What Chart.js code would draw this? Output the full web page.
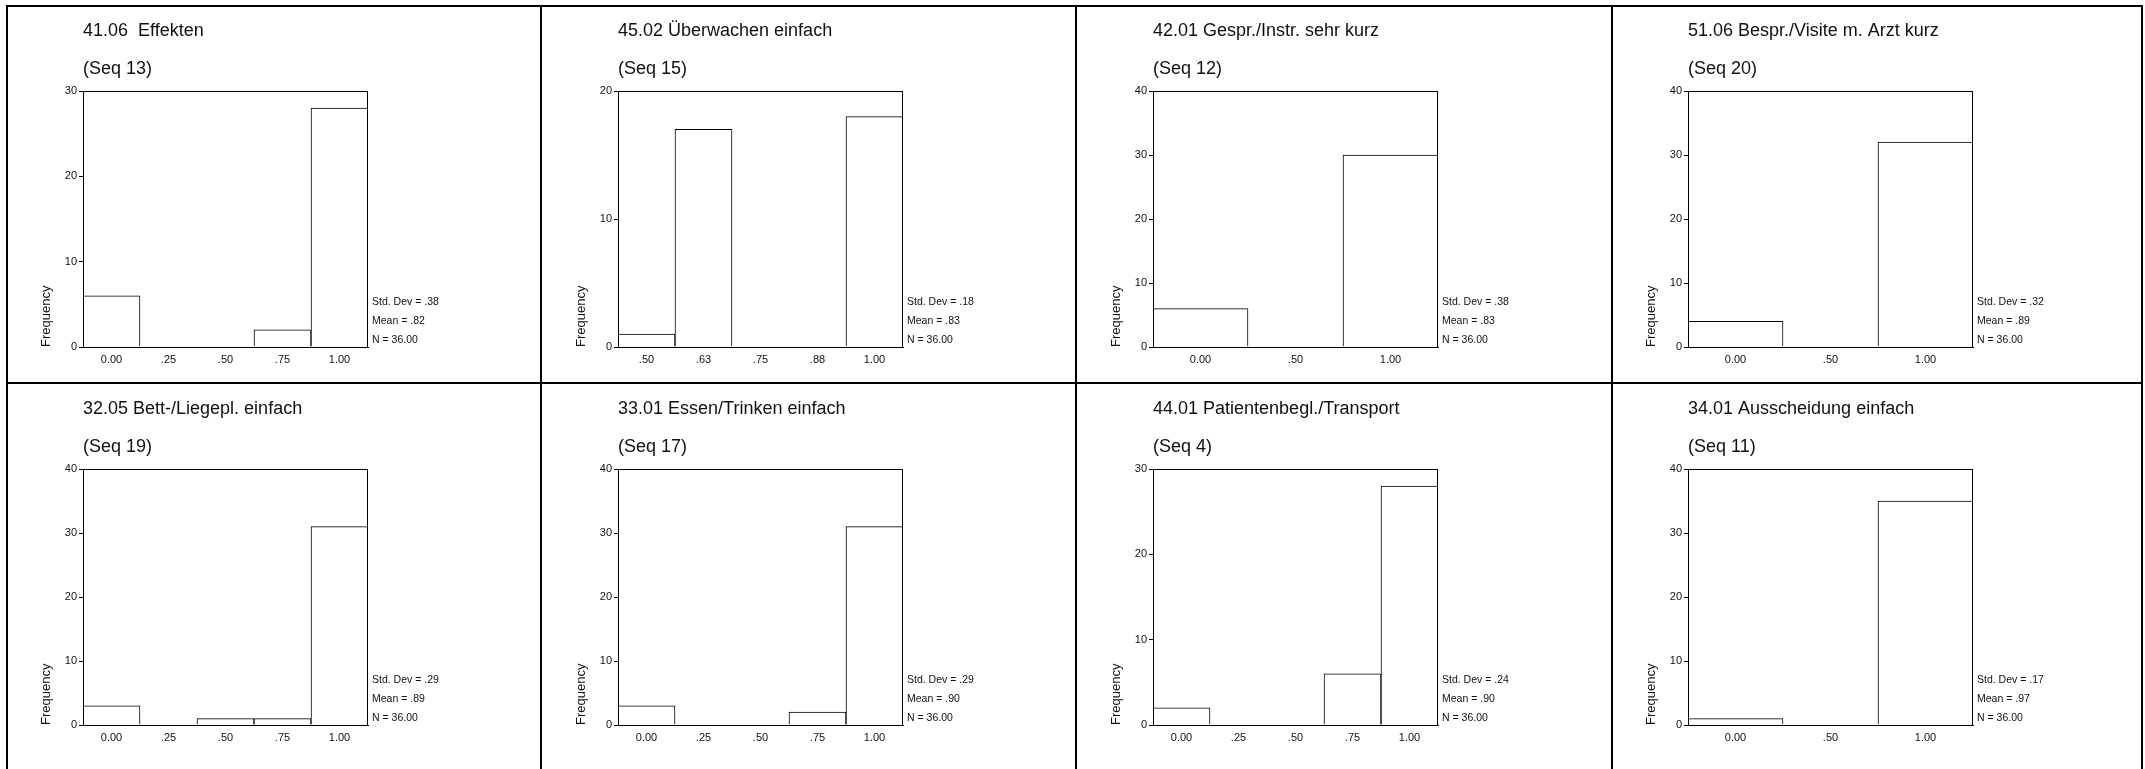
<!DOCTYPE html>
<html>
<head>
<meta charset="utf-8">
<title>Histogramme</title>
<script src="https://cdn.jsdelivr.net/npm/chart.js@4/dist/chart.umd.min.js"></script>
<style>
    html, body {
        margin: 0;
        padding: 0;
        background: #fff;
    }
    body {
        width: 2145px;
        height: 769px;
        position: relative;
        overflow: hidden;
        font-family: "Liberation Sans", Arial, sans-serif;
    }
    canvas {
        position: absolute;
    }
    .rule {
        position: absolute;
        background: #000;
        z-index: 2;
    }
</style>
</head>
<body>
<!-- table lines -->
<div class="rule" style="left:6px;top:5px;width:2137px;height:2px"></div>
<div class="rule" style="left:6px;top:382px;width:2137px;height:2px"></div>
<div class="rule" style="left:6px;top:5px;width:2px;height:764px"></div>
<div class="rule" style="left:540px;top:5px;width:2px;height:764px"></div>
<div class="rule" style="left:1075px;top:5px;width:2px;height:764px"></div>
<div class="rule" style="left:1611px;top:5px;width:2px;height:764px"></div>
<div class="rule" style="left:2141px;top:5px;width:2px;height:764px"></div>

<script>
// Panel texts
const titles = [
    '41.06  Effekten',
    '45.02 Überwachen einfach',
    '42.01 Gespr./Instr. sehr kurz',
    '51.06 Bespr./Visite m. Arzt kurz',
    '32.05 Bett-/Liegepl. einfach',
    '33.01 Essen/Trinken einfach',
    '44.01 Patientenbegl./Transport',
    '34.01 Ausscheidung einfach'
];
const seqs = ['(Seq 13)', '(Seq 15)', '(Seq 12)', '(Seq 20)', '(Seq 19)', '(Seq 17)', '(Seq 4)', '(Seq 11)'];

// Bin labels (x axis)
const binsQuarter = ['0.00', '.25', '.50', '.75', '1.00'];
const binsHalf = ['0.00', '.50', '1.00'];
const binsEighth = ['.50', '.63', '.75', '.88', '1.00'];

// Frequencies per bin
const freqEffekten = [6, 0, 0, 2, 28];
const freqUeberwachen = [1, 17, 0, 0, 18];
const freqGespraech = [6, 0, 30];
const freqVisite = [4, 0, 32];
const freqBett = [3, 0, 1, 1, 31];
const freqEssen = [3, 0, 0, 2, 31];
const freqTransport = [2, 0, 0, 6, 28];
const freqAusscheidung = [1, 0, 35];

// Y axis maxima
const yMax = [30, 20, 40, 40, 40, 40, 30, 40];

// Summary statistics
const stdDevs = ['.38', '.18', '.38', '.32', '.29', '.29', '.24', '.17'];
const means = ['.82', '.83', '.83', '.89', '.89', '.90', '.90', '.97'];
const counts = ['36.00', '36.00', '36.00', '36.00', '36.00', '36.00', '36.00', '36.00'];

const panelBins = [binsQuarter, binsEighth, binsHalf, binsHalf, binsQuarter, binsQuarter, binsQuarter, binsHalf];
const panelFreqs = [freqEffekten, freqUeberwachen, freqGespraech, freqVisite,
    freqBett, freqEssen, freqTransport, freqAusscheidung];

const FONT = '"Liberation Sans", Arial, sans-serif';
const colLeft = [7, 542, 1077, 1612];
const rowTop = [7, 385];

// frame around the plot area + stats text on the right
const histFrame = {
    id: 'histFrame',
    afterDatasetsDraw(chart) {
        const a = chart.chartArea;
        const ctx = chart.ctx;
        ctx.save();
        ctx.strokeStyle = '#000';
        ctx.lineWidth = 1;
        ctx.strokeRect(Math.round(a.left) + 0.5, Math.round(a.top) + 0.5,
            Math.round(a.right - a.left) - 1, Math.round(a.bottom - a.top));
        ctx.restore();
    },
    afterDraw(chart, args, opts) {
        const a = chart.chartArea;
        const ctx = chart.ctx;
        ctx.save();
        ctx.fillStyle = '#111';
        ctx.font = '10.5px ' + FONT;
        ctx.textBaseline = 'middle';
        ctx.textAlign = 'left';
        opts.lines.forEach(function (line, k) {
            const y = a.bottom - 7 - (opts.lines.length - 1 - k) * 18.7;
            ctx.fillText(line, a.right + 4, y);
        });
        ctx.restore();
    }
};

document.addEventListener('DOMContentLoaded', function () {
    for (let i = 0; i < 8; i++) {
        const canvas = document.createElement('canvas');
        canvas.width = 450;
        canvas.height = 375;
        canvas.style.left = colLeft[i % 4] + 'px';
        canvas.style.top = rowTop[Math.floor(i / 4)] + 'px';
        document.body.appendChild(canvas);

        new Chart(canvas.getContext('2d'), {
            type: 'bar',
            data: {
                labels: panelBins[i],
                datasets: [{
                    data: panelFreqs[i],
                    backgroundColor: '#fff',
                    borderColor: '#000',
                    borderWidth: 1,
                    barPercentage: 1,
                    categoryPercentage: 1
                }]
            },
            plugins: [histFrame],
            options: {
                responsive: false,
                animation: false,
                layout: {
                    padding: { left: 32, right: 89, top: 0, bottom: 13 }
                },
                plugins: {
                    legend: { display: false },
                    tooltip: { enabled: false },
                    title: {
                        display: true,
                        text: titles[i],
                        align: 'start',
                        fullSize: false,
                        color: '#111',
                        font: { family: FONT, size: 18, weight: 'normal', lineHeight: 1.2 },
                        padding: { top: 13.2, bottom: 0 }
                    },
                    subtitle: {
                        display: true,
                        text: seqs[i],
                        align: 'start',
                        fullSize: false,
                        color: '#111',
                        font: { family: FONT, size: 18, weight: 'normal', lineHeight: 1.2 },
                        padding: { top: 16.4, bottom: 11.2 }
                    },
                    histFrame: {
                        lines: ['Std. Dev = ' + stdDevs[i], 'Mean = ' + means[i], 'N = ' + counts[i]]
                    }
                },
                scales: {
                    x: {
                        type: 'category',
                        grid: { display: false, drawTicks: false },
                        border: { display: true, color: '#000', width: 1 },
                        ticks: {
                            color: '#111',
                            font: { family: FONT, size: 11 },
                            padding: 6,
                            maxRotation: 0,
                            autoSkip: false
                        },
                        afterFit: function (scale) { scale.height = 22; }
                    },
                    y: {
                        min: 0,
                        max: yMax[i],
                        grid: {
                            display: true,
                            drawOnChartArea: false,
                            drawTicks: true,
                            tickLength: 4,
                            color: '#000'
                        },
                        border: { display: true, color: '#000', width: 1 },
                        ticks: {
                            stepSize: 10,
                            color: '#111',
                            font: { family: FONT, size: 11 },
                            padding: 2
                        },
                        title: {
                            display: true,
                            text: 'Frequency',
                            align: 'start',
                            color: '#111',
                            font: { family: FONT, size: 13, lineHeight: 1.2 },
                            padding: 0
                        },
                        afterFit: function (scale) { scale.width = 44; }
                    }
                }
            }
        });
    }
});
</script>
</body>
</html>
